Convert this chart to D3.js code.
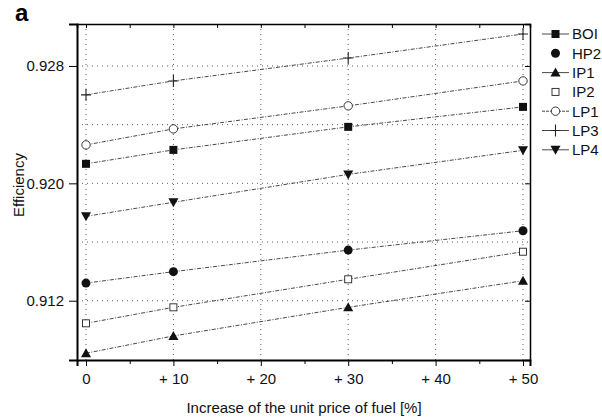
<!DOCTYPE html>
<html><head><meta charset="utf-8">
<script src="https://cdn.jsdelivr.net/npm/d3@7/dist/d3.min.js"></script>
<style>body{margin:0;background:#fff}svg{display:block;font-family:"Liberation Sans",Arial,sans-serif}</style>
</head><body><svg id="c" width="602" height="420"></svg>
<script>
const xValues = [0, 10, 30, 50];
const seriesNames = ["BOI", "HP2", "IP1", "IP2", "LP1", "LP3", "LP4"];
const BOI = [0.92133, 0.92228, 0.92385, 0.92521];
const HP2 = [0.9132, 0.91398, 0.91545, 0.91677];
const IP1 = [0.90842, 0.9096, 0.91155, 0.91336];
const IP2 = [0.91046, 0.91155, 0.91346, 0.91534];
const LP1 = [0.92262, 0.92371, 0.92528, 0.92698];
const LP3 = [0.92603, 0.92698, 0.92854, 0.93018];
const LP4 = [0.91775, 0.91871, 0.92061, 0.92225];
const xTicks = [0, 10, 20, 30, 40, 50];
const xTickLabels = ["0", "+ 10", "+ 20", "+ 30", "+ 40", "+ 50"];
const yTicks = [0.912, 0.920, 0.928];
const yGrid = [0.912, 0.916, 0.920, 0.924, 0.928];

const seriesData = {BOI, HP2, IP1, IP2, LP1, LP3, LP4};
const markers = {BOI:"square", HP2:"circle", IP1:"triangle", IP2:"osquare", LP1:"ocircle", LP3:"plus", LP4:"dtriangle"};
const legendLine = {BOI:true, HP2:false, IP1:true, IP2:false, LP1:true, LP3:true, LP4:true};

const svg = d3.select("#c");
const L=77, R=530, T=24, B=360;
const FS = 15;
const x = d3.scaleLinear().domain([-1.03, 50.8]).range([L, R]);
const y = d3.scaleLinear().domain([0.90796, 0.93086]).range([B, T]);

// grid
const g = svg.append("g");
g.selectAll("line.vg").data(xTicks).enter().append("line")
  .attr("x1", d=>x(d)).attr("x2", d=>x(d)).attr("y1", T).attr("y2", B)
  .attr("stroke", "#333").attr("stroke-width", 0.8).attr("stroke-dasharray", "1,4");
g.selectAll("line.hg").data(yGrid).enter().append("line")
  .attr("y1", d=>y(d)).attr("y2", d=>y(d)).attr("x1", L).attr("x2", R)
  .attr("stroke", "#333").attr("stroke-width", 0.8).attr("stroke-dasharray", "1,4");

// axes
const xMinor = d3.range(5, 50, 10);
svg.append("g").attr("transform", `translate(0,${B})`)
  .call(d3.axisBottom(x).tickValues(xTicks).tickFormat((d,i)=>xTickLabels[i]).tickSize(6).tickPadding(7))
  .call(a=>a.select(".domain").attr("stroke-width", 2))
  .call(a=>a.selectAll("text").attr("font-size", FS).attr("fill", "#111"));
svg.append("g").attr("transform", `translate(0,${B})`)
  .call(d3.axisBottom(x).tickValues(xMinor).tickFormat("").tickSize(4))
  .call(a=>a.select(".domain").remove());
svg.append("g").attr("transform", `translate(0,${T})`)
  .call(d3.axisTop(x).tickValues(xTicks.concat(xMinor)).tickFormat("").tickSize(-4))
  .call(a=>a.select(".domain").attr("stroke-width", 1.5));
svg.append("g").attr("transform", `translate(${L},0)`)
  .call(d3.axisLeft(y).tickValues(yTicks).tickFormat(d3.format(".3f")).tickSize(8).tickPadding(5))
  .call(a=>a.select(".domain").attr("stroke-width", 2))
  .call(a=>a.selectAll("text").attr("font-size", FS).attr("fill", "#111"));
svg.append("g").attr("transform", `translate(${R},0)`)
  .call(d3.axisRight(y).tickValues(yTicks).tickFormat("").tickSize(-5))
  .call(a=>a.select(".domain").attr("stroke-width", 1.5));

// series
const line = d3.line().x((d,i)=>x(xValues[i])).y(d=>y(d));
function drawMarker(sel, type, cx, cy){
  const s=4;
  if(type==="square") sel.append("rect").attr("x",cx-s).attr("y",cy-s).attr("width",2*s).attr("height",2*s).attr("fill","#111");
  else if(type==="osquare") sel.append("rect").attr("x",cx-3.5).attr("y",cy-3.5).attr("width",7).attr("height",7).attr("fill","#fff").attr("stroke","#222").attr("stroke-width",0.9);
  else if(type==="circle") sel.append("circle").attr("cx",cx).attr("cy",cy).attr("r",4.5).attr("fill","#111");
  else if(type==="ocircle") sel.append("circle").attr("cx",cx).attr("cy",cy).attr("r",4.2).attr("fill","#fff").attr("stroke","#222").attr("stroke-width",0.9);
  else if(type==="triangle") sel.append("path").attr("d",`M${cx},${cy-5}L${cx+5},${cy+4}L${cx-5},${cy+4}Z`).attr("fill","#111");
  else if(type==="dtriangle") sel.append("path").attr("d",`M${cx},${cy+5}L${cx+5},${cy-4}L${cx-5},${cy-4}Z`).attr("fill","#111");
  else if(type==="plus") sel.append("path").attr("d",`M${cx-5},${cy}H${cx+5}M${cx},${cy-6}V${cy+6}`).attr("stroke","#222").attr("stroke-width",1.1).attr("fill","none");
}
seriesNames.forEach(n=>{
  const gs = svg.append("g");
  gs.append("path").datum(seriesData[n]).attr("d", line).attr("fill","none")
    .attr("stroke","#333").attr("stroke-width",0.9).attr("stroke-dasharray","4,1.5,1,1.5");
  seriesData[n].forEach((v,i)=>drawMarker(gs, markers[n], x(xValues[i]), y(v)));
});

// legend
const lg = svg.append("g");
seriesNames.forEach((n,i)=>{
  const yy = 34 + i*19.3;
  if(legendLine[n]) lg.append("line").attr("x1",542).attr("x2",569).attr("y1",yy).attr("y2",yy)
    .attr("stroke","#333").attr("stroke-width",0.9).attr("stroke-dasharray", n==="LP1"?"3,1":null);
  drawMarker(lg, markers[n], 555.5, yy);
  lg.append("text").attr("x",572).attr("y",yy).attr("dy","0.36em").attr("font-size",FS).attr("fill","#111").text(n);
});

// titles
svg.append("text").attr("x",15).attr("y",21).attr("font-size",24).attr("font-weight","bold").text("a");
svg.append("text").attr("transform",`translate(24,185) rotate(-90)`).attr("text-anchor","middle")
  .attr("font-size",FS).attr("fill","#111").text("Efficiency");
svg.append("text").attr("x",304).attr("y",413).attr("text-anchor","middle").attr("font-size",FS).attr("fill","#111")
  .text("Increase of the unit price of fuel [%]");
</script></body></html>
